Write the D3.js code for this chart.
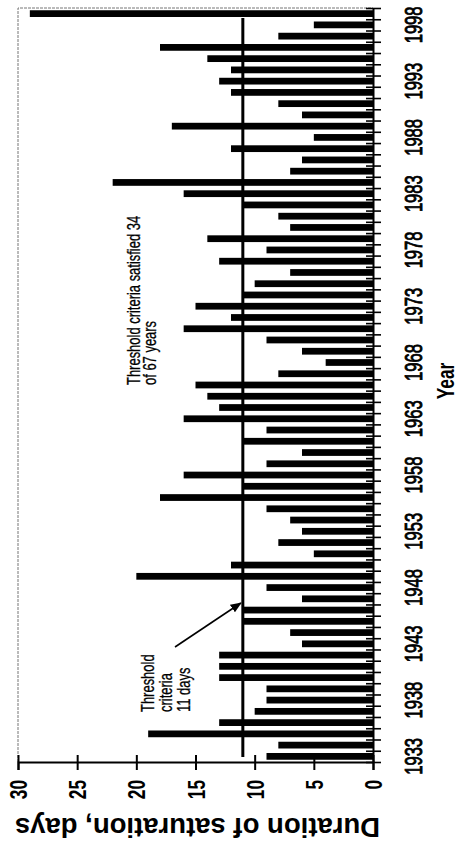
<!DOCTYPE html>
<html>
<head>
<meta charset="utf-8">
<script src="https://cdn.jsdelivr.net/npm/d3@7"></script>
<style>
  body { margin: 0; background: #fff; }
  svg { display: block; }
  text { font-family: "Liberation Sans", Arial, sans-serif; fill: #000; }
</style>
</head>
<body>
<div id="chart"></div>
<script>
// years on the category axis (1933-1999)
var years = [1933, 1934, 1935, 1936, 1937, 1938, 1939, 1940, 1941, 1942,
             1943, 1944, 1945, 1946, 1947, 1948, 1949, 1950, 1951, 1952,
             1953, 1954, 1955, 1956, 1957, 1958, 1959, 1960, 1961, 1962,
             1963, 1964, 1965, 1966, 1967, 1968, 1969, 1970, 1971, 1972,
             1973, 1974, 1975, 1976, 1977, 1978, 1979, 1980, 1981, 1982,
             1983, 1984, 1985, 1986, 1987, 1988, 1989, 1990, 1991, 1992,
             1993, 1994, 1995, 1996, 1997, 1998, 1999];

// duration of saturation, days
var durations = [9, 8, 19, 13, 10, 9, 9, 13, 13, 13,
                 6, 7, 11, 11, 6, 9, 20, 12, 5, 8,
                 6, 7, 9, 18, 11, 16, 9, 6, 11, 9,
                 16, 13, 14, 15, 8, 4, 6, 9, 16, 12,
                 15, 11, 10, 7, 13, 9, 14, 7, 8, 11,
                 16, 22, 7, 6, 12, 5, 17, 6, 8, 12,
                 13, 12, 14, 18, 8, 5, 29];

var yearLabels = [1933, 1938, 1943, 1948, 1953, 1958, 1963, 1968, 1973, 1978, 1983, 1988, 1993, 1998];
var valueTicks = [0, 5, 10, 15, 20, 25, 30];
var threshold = 11;

var data = years.map(function(y, i) { return { year: y, days: durations[i] }; });

// the chart is printed turned on its side: values run right to left, years bottom to top
var margin = {top: 8, right: 88, bottom: 82, left: 18},
    width = 461 - margin.left - margin.right,
    height = 844 - margin.top - margin.bottom;

var squash = "scale(0.72,1)";   // the scan is compressed along the page height

var svg = d3.select("#chart").append("svg")
    .attr("width", 461)
    .attr("height", 844)
  .append("g")
    .attr("transform", "translate(" + margin.left + "," + margin.top + ")");

var x = d3.scaleLinear().domain([0, 30]).range([width, 0]);
var y = d3.scaleBand().domain(years).range([height, 0])
    .paddingInner(0.4).paddingOuter(0.2);
var yIdx = d3.scaleLinear().domain([0, years.length]).range([height, 0]);

// plot border (top and left)
svg.append("path")
    .attr("d", "M0," + height + "V0H" + width)
    .attr("fill", "none")
    .attr("stroke", "#777")
    .attr("stroke-width", 1)
    .attr("stroke-dasharray", "3,1");

// bars
svg.selectAll(".bar")
    .data(data)
  .enter().append("rect")
    .attr("class", "bar")
    .attr("x", function(d) { return x(d.days); })
    .attr("y", function(d) { return y(d.year); })
    .attr("width", function(d) { return x(0) - x(d.days); })
    .attr("height", y.bandwidth())
    .attr("fill", "#000");

// threshold line
svg.append("line")
    .attr("x1", x(threshold)).attr("x2", x(threshold))
    .attr("y1", 10).attr("y2", height - 5)
    .attr("stroke", "#000")
    .attr("stroke-width", 3);

// value axis
var xAxis = svg.append("g")
    .attr("transform", "translate(0," + height + ")")
    .call(d3.axisBottom(x).tickValues(valueTicks).tickSizeOuter(0).tickSize(8));
xAxis.select(".domain").attr("stroke-width", 2);
xAxis.selectAll(".tick line").attr("y1", -7).attr("y2", 8).attr("stroke-width", 2);
xAxis.selectAll(".tick text")
    .attr("x", 0).attr("y", 0).attr("dy", "0.36em")
    .attr("text-anchor", "end")
    .attr("transform", "translate(0,18) rotate(-90) " + squash)
    .style("font-size", "24px")
    .style("font-weight", "bold")
    .style("font-family", "'Liberation Sans', Arial, sans-serif");

// year axis: ticks between categories
var yTicks = svg.append("g")
    .attr("transform", "translate(" + width + ",0)")
    .call(d3.axisRight(yIdx).tickValues(d3.range(years.length + 1)).tickFormat("").tickSizeOuter(0));
yTicks.select(".domain").attr("stroke-width", 2);
yTicks.selectAll(".tick line").attr("x1", -7).attr("x2", 8).attr("stroke-width", 1.6);

// year labels
var yAxis = svg.append("g")
    .attr("transform", "translate(" + width + ",0)")
    .call(d3.axisRight(y).tickValues(yearLabels).tickSize(0));
yAxis.select(".domain").remove();
yAxis.selectAll(".tick text")
    .attr("x", 0).attr("y", 0).attr("dy", "0.36em")
    .attr("text-anchor", "middle")
    .attr("transform", "translate(41,0) rotate(-90) " + squash)
    .attr("stroke", "#000").attr("stroke-width", 0.9)
    .style("font-size", "23px")
    .style("font-family", "'Liberation Sans', Arial, sans-serif");

// axis titles
svg.append("text")
    .attr("text-anchor", "middle")
    .attr("transform", "translate(" + (width / 2 + 2) + "," + (height + 56) + ") rotate(180)")
    .style("font-size", "27.5px")
    .style("font-weight", "bold")
    .text("Duration of saturation, days");

svg.append("text")
    .attr("text-anchor", "middle")
    .attr("dy", "0.36em")
    .attr("transform", "translate(" + (width + 72) + "," + (height / 2 - 4) + ") rotate(-90) " + squash)
    .style("font-size", "24px")
    .style("font-weight", "bold")
    .text("Year");

// annotations
function note(lines, bx, by, gap) {
  lines.forEach(function(t, i) {
    svg.append("text")
        .attr("transform", "translate(" + (bx + i * gap) + "," + by + ") rotate(-90) " + squash)
        .attr("stroke", "#000").attr("stroke-width", 0.3)
        .style("font-size", "18px")
        .text(t);
  });
}
note(["Threshold criteria satisfied 34", "of 67 years"], 122, 377, 16);
note(["Threshold", "criteria", "11 days"], 136, 704, 18);

// arrow to the threshold line
svg.append("defs").append("marker")
    .attr("id", "head")
    .attr("viewBox", "0 0 10 10")
    .attr("refX", 9).attr("refY", 5)
    .attr("markerWidth", 7).attr("markerHeight", 7)
    .attr("orient", "auto")
  .append("path")
    .attr("d", "M0,1L10,5L0,9Z")
    .attr("fill", "#000");

svg.append("line")
    .attr("x1", 157).attr("y1", 639)
    .attr("x2", x(threshold) - 2).attr("y2", 595)
    .attr("stroke", "#000")
    .attr("stroke-width", 1.6)
    .attr("marker-end", "url(#head)");
</script>
</body>
</html>
